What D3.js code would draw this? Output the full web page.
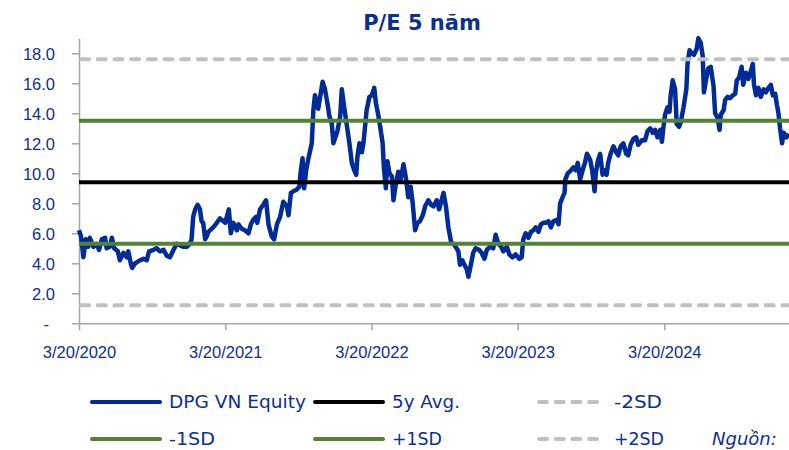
<!DOCTYPE html>
<html>
<head>
<meta charset="utf-8">
<script src="https://cdn.jsdelivr.net/npm/d3@7"></script>
<style>
  body { margin: 0; background: #fff; }
  svg { display: block; font-family: "DejaVu Sans", sans-serif; }
</style>
</head>
<body>
<script>
let width = 789,
  height = 450

// P/E of DPG VN Equity
let peSeries = [
  ["2020-03-20", 6.2], ["2020-03-25", 5.8], ["2020-03-31", 4.4], ["2020-04-06", 5.6], ["2020-04-12", 5.1],
  ["2020-04-16", 5.7], ["2020-04-25", 5.1], ["2020-05-03", 5.3], ["2020-05-09", 4.9], ["2020-05-16", 5.6],
  ["2020-05-24", 5.7], ["2020-05-28", 5.0], ["2020-06-05", 5.1], ["2020-06-10", 5.7], ["2020-06-16", 5.0],
  ["2020-06-25", 4.8], ["2020-06-30", 4.2], ["2020-07-09", 4.7], ["2020-07-17", 4.4], ["2020-07-21", 4.8],
  ["2020-07-28", 3.9], ["2020-07-31", 3.7], ["2020-08-07", 4.0], ["2020-08-19", 4.2], ["2020-08-28", 4.3],
  ["2020-09-05", 4.2], ["2020-09-11", 4.8], ["2020-09-22", 4.9], ["2020-09-30", 5.0], ["2020-10-08", 4.8],
  ["2020-10-17", 4.9], ["2020-10-25", 4.5], ["2020-11-02", 4.4], ["2020-11-11", 4.9], ["2020-11-19", 5.3],
  ["2020-11-27", 5.2], ["2020-12-06", 5.1], ["2020-12-14", 5.1], ["2020-12-22", 5.3], ["2020-12-26", 5.6],
  ["2020-12-30", 7.1], ["2021-01-04", 7.6], ["2021-01-10", 7.9], ["2021-01-16", 7.6], ["2021-01-20", 6.8],
  ["2021-01-24", 6.7], ["2021-01-29", 5.6], ["2021-02-02", 5.8], ["2021-02-06", 6.1], ["2021-02-18", 6.4],
  ["2021-02-27", 6.7], ["2021-03-07", 7.0], ["2021-03-11", 6.9], ["2021-03-20", 6.7], ["2021-03-29", 7.6],
  ["2021-04-03", 6.0], ["2021-04-09", 6.7], ["2021-04-18", 6.2], ["2021-04-22", 6.6], ["2021-04-30", 6.3],
  ["2021-05-08", 6.2], ["2021-05-17", 6.0], ["2021-05-23", 6.6], ["2021-05-29", 6.9], ["2021-06-05", 7.1],
  ["2021-06-08", 6.7], ["2021-06-15", 7.6], ["2021-06-23", 7.9], ["2021-06-30", 8.2], ["2021-07-06", 6.6],
  ["2021-07-14", 5.8], ["2021-07-20", 5.6], ["2021-07-27", 6.6], ["2021-08-04", 7.1], ["2021-08-12", 8.1],
  ["2021-08-21", 7.8], ["2021-08-25", 7.2], ["2021-08-31", 8.7], ["2021-09-06", 8.8], ["2021-09-14", 8.9],
  ["2021-09-21", 9.1], ["2021-09-24", 10.0], ["2021-09-29", 11.0], ["2021-10-03", 9.0], ["2021-10-08", 10.2],
  ["2021-10-13", 10.9], ["2021-10-22", 12.0], ["2021-10-26", 14.2], ["2021-10-30", 15.2], ["2021-11-03", 14.8],
  ["2021-11-07", 14.3], ["2021-11-12", 15.1], ["2021-11-18", 16.1], ["2021-11-24", 15.6], ["2021-11-30", 14.7],
  ["2021-12-05", 13.8], ["2021-12-11", 13.3], ["2021-12-15", 12.0], ["2021-12-20", 12.4], ["2021-12-25", 12.8],
  ["2021-12-27", 13.1], ["2022-01-01", 13.8], ["2022-01-05", 15.6], ["2022-01-11", 14.4], ["2022-01-17", 13.3],
  ["2022-01-24", 12.0], ["2022-01-30", 10.7], ["2022-02-05", 10.2], ["2022-02-10", 9.9], ["2022-02-13", 11.1],
  ["2022-02-18", 12.0], ["2022-02-24", 11.4], ["2022-02-28", 12.0], ["2022-03-04", 13.1], ["2022-03-08", 14.2],
  ["2022-03-15", 15.1], ["2022-03-21", 15.2], ["2022-03-27", 15.7], ["2022-03-31", 14.7], ["2022-04-06", 13.9],
  ["2022-04-12", 12.9], ["2022-04-17", 12.0], ["2022-04-20", 10.4], ["2022-04-25", 9.0], ["2022-04-29", 10.8],
  ["2022-05-04", 10.0], ["2022-05-10", 9.8], ["2022-05-14", 8.2], ["2022-05-20", 9.3], ["2022-05-26", 10.1],
  ["2022-06-01", 9.6], ["2022-06-08", 10.6], ["2022-06-14", 9.7], ["2022-06-20", 8.4], ["2022-06-26", 9.1],
  ["2022-07-01", 8.0], ["2022-07-07", 6.2], ["2022-07-13", 6.7], ["2022-07-19", 6.8], ["2022-07-26", 7.2],
  ["2022-08-01", 7.8], ["2022-08-09", 8.2], ["2022-08-16", 7.9], ["2022-08-22", 7.8], ["2022-08-30", 8.2],
  ["2022-09-05", 7.6], ["2022-09-16", 8.7], ["2022-09-22", 7.8], ["2022-09-28", 6.4], ["2022-10-05", 5.4],
  ["2022-10-11", 5.3], ["2022-10-16", 5.1], ["2022-10-23", 4.8], ["2022-10-27", 3.9], ["2022-11-02", 4.2],
  ["2022-11-07", 3.9], ["2022-11-13", 3.6], ["2022-11-17", 3.1], ["2022-11-24", 4.0], ["2022-11-29", 4.7],
  ["2022-12-05", 5.0], ["2022-12-14", 4.9], ["2022-12-20", 4.7], ["2022-12-27", 4.3], ["2023-01-02", 4.9],
  ["2023-01-10", 5.1], ["2023-01-18", 5.0], ["2023-01-24", 5.9], ["2023-01-31", 5.3], ["2023-02-07", 5.1],
  ["2023-02-12", 4.8], ["2023-02-21", 5.1], ["2023-02-27", 4.6], ["2023-03-07", 4.4], ["2023-03-15", 4.6],
  ["2023-03-24", 4.3], ["2023-03-30", 4.4], ["2023-04-03", 5.6], ["2023-04-09", 6.0], ["2023-04-16", 5.7],
  ["2023-04-22", 6.1], ["2023-04-28", 6.2], ["2023-05-04", 6.4], ["2023-05-11", 6.1], ["2023-05-17", 6.6],
  ["2023-05-23", 6.7], ["2023-05-29", 6.7], ["2023-06-05", 6.8], ["2023-06-11", 6.4], ["2023-06-17", 6.8],
  ["2023-06-26", 6.9], ["2023-06-30", 6.6], ["2023-07-04", 8.0], ["2023-07-10", 8.4], ["2023-07-15", 8.7],
  ["2023-07-17", 9.6], ["2023-07-23", 10.0], ["2023-07-31", 10.2], ["2023-08-06", 10.4], ["2023-08-12", 10.2],
  ["2023-08-17", 10.7], ["2023-08-23", 9.6], ["2023-08-29", 10.2], ["2023-09-04", 10.7], ["2023-09-09", 11.3],
  ["2023-09-17", 10.9], ["2023-09-22", 10.2], ["2023-09-28", 8.8], ["2023-10-01", 10.0], ["2023-10-06", 10.8],
  ["2023-10-12", 11.3], ["2023-10-18", 9.9], ["2023-10-24", 10.2], ["2023-10-28", 9.9], ["2023-11-01", 10.7],
  ["2023-11-07", 11.3], ["2023-11-14", 11.8], ["2023-11-21", 11.4], ["2023-11-26", 11.2], ["2023-12-02", 11.8],
  ["2023-12-09", 12.0], ["2023-12-16", 11.3], ["2023-12-21", 11.2], ["2023-12-27", 11.9], ["2024-01-03", 12.3],
  ["2024-01-10", 12.4], ["2024-01-15", 11.9], ["2024-01-24", 12.2], ["2024-02-01", 12.2], ["2024-02-07", 12.8],
  ["2024-02-14", 13.0], ["2024-02-20", 12.7], ["2024-02-26", 12.9], ["2024-03-03", 12.4], ["2024-03-10", 12.9],
  ["2024-03-14", 12.1], ["2024-03-18", 13.1], ["2024-03-22", 13.9], ["2024-03-28", 14.4], ["2024-04-02", 14.1],
  ["2024-04-05", 15.2], ["2024-04-10", 16.2], ["2024-04-16", 15.6], ["2024-04-20", 13.3], ["2024-04-26", 13.1],
  ["2024-04-30", 13.4], ["2024-05-07", 14.4], ["2024-05-14", 15.6], ["2024-05-17", 17.3], ["2024-05-22", 18.2],
  ["2024-05-28", 18.0], ["2024-06-02", 17.9], ["2024-06-09", 18.3], ["2024-06-13", 19.0], ["2024-06-19", 18.7],
  ["2024-06-24", 17.8], ["2024-06-27", 15.4], ["2024-07-02", 16.2], ["2024-07-08", 17.0], ["2024-07-14", 17.1],
  ["2024-07-21", 15.8], ["2024-07-25", 14.0], ["2024-07-31", 13.7], ["2024-08-05", 12.9], ["2024-08-08", 13.9],
  ["2024-08-15", 14.2], ["2024-08-19", 14.9], ["2024-08-25", 15.1], ["2024-08-31", 15.0], ["2024-09-07", 15.2],
  ["2024-09-13", 15.3], ["2024-09-17", 16.2], ["2024-09-23", 16.4], ["2024-09-29", 17.1], ["2024-10-03", 15.9],
  ["2024-10-10", 16.7], ["2024-10-16", 16.3], ["2024-10-22", 16.8], ["2024-10-27", 17.3], ["2024-10-30", 15.9],
  ["2024-11-04", 15.2], ["2024-11-10", 15.7], ["2024-11-16", 15.1], ["2024-11-23", 15.6], ["2024-11-29", 15.4],
  ["2024-12-05", 15.7], ["2024-12-11", 15.9], ["2024-12-16", 15.2], ["2024-12-22", 15.3], ["2024-12-26", 14.6],
  ["2024-12-30", 14.0], ["2025-01-03", 13.0], ["2025-01-08", 12.0], ["2025-01-12", 12.7], ["2025-01-19", 12.4],
  ["2025-01-26", 12.6]
]

// average and standard deviation bands
let bandNames = ["+2SD", "+1SD", "5y Avg.", "-1SD", "-2SD"]
let bandValues = [17.6, 13.5, 9.4, 5.3, 1.2]

let yTicks = [0, 2, 4, 6, 8, 10, 12, 14, 16, 18]
let xTickDates = ["2020-03-20", "2021-03-20", "2022-03-20", "2023-03-20", "2024-03-20"]

let parse = d3.timeParse("%Y-%m-%d")
let textColor = "#0d2f8f"
let bandStyle = {
  "+2SD": { color: "#c0c0c0", dash: true },
  "+1SD": { color: "#548235", dash: false },
  "5y Avg.": { color: "#000000", dash: false },
  "-1SD": { color: "#548235", dash: false },
  "-2SD": { color: "#c0c0c0", dash: true }
}

let svg = d3.select("body").append("svg")
  .attr("width", width)
  .attr("height", height)

let x = d3.scaleTime()
  .domain([parse("2020-03-20"), parse("2025-03-20")])
  .range([79, 810.5])

let y = d3.scaleLinear()
  .domain([0, 19])
  .range([323.3, 38.3])

// title
svg.append("text")
  .attr("x", 422)
  .attr("y", 30)
  .attr("text-anchor", "middle")
  .attr("font-size", 21)
  .attr("font-weight", "700")
  .attr("fill", textColor)
  .text("P/E 5 năm")

// y axis
let yAxis = svg.append("g")
  .attr("transform", "translate(79,0)")
  .call(d3.axisLeft(y)
    .tickValues(yTicks)
    .tickSize(7)
    .tickSizeOuter(0)
    .tickPadding(17)
    .tickFormat(d => d === 0 ? "-" : d.toFixed(1)))

yAxis.selectAll("text")
  .attr("font-size", 16.5)
  .attr("fill", textColor)
  .attr("dy", "0.36em")
  .attr("dx", d => d === 0 ? -6 : 0)

// x axis
let xAxis = svg.append("g")
  .attr("transform", `translate(0,${y(0)})`)
  .call(d3.axisBottom(x)
    .tickValues(xTickDates.map(parse))
    .tickSize(7)
    .tickSizeOuter(0)
    .tickFormat(d3.timeFormat("%-m/%-d/%Y")))

xAxis.selectAll("text")
  .attr("font-size", 16.5)
  .attr("fill", textColor)
  .attr("y", 35)
  .attr("dy", 0)

svg.selectAll(".domain, .tick line")
  .attr("stroke", "#a6a6a6")
  .attr("stroke-width", 1.5)

// DPG series
let line = d3.line()
  .x(d => x(parse(d[0])))
  .y(d => y(d[1]))

svg.append("path")
  .datum(peSeries)
  .attr("d", line)
  .attr("fill", "none")
  .attr("stroke", "#002b99")
  .attr("stroke-width", 4.5)
  .attr("stroke-linejoin", "round")

// bands
bandNames.forEach((name, i) => {
  let st = bandStyle[name]
  svg.append("line")
    .attr("x1", x.range()[0])
    .attr("x2", x.range()[1])
    .attr("y1", y(bandValues[i]))
    .attr("y2", y(bandValues[i]))
    .attr("stroke", st.color)
    .attr("stroke-width", 4)
    .attr("stroke-linecap", st.dash ? "round" : "butt")
    .attr("stroke-dasharray", st.dash ? "8,8.7" : null)
    .attr("stroke-dashoffset", st.dash ? -2 : null)
})

// legend
let legendItems = [
  { label: "DPG VN Equity", color: "#002b99", dash: false, w: 137 },
  { label: "5y Avg.", color: bandStyle["5y Avg."].color, dash: false, w: 68 },
  { label: "-2SD", color: bandStyle["-2SD"].color, dash: true, w: 48 },
  { label: "-1SD", color: bandStyle["-1SD"].color, dash: false, w: 46 },
  { label: "+1SD", color: bandStyle["+1SD"].color, dash: false, w: 50 },
  { label: "+2SD", color: bandStyle["+2SD"].color, dash: true, w: 50 }
]
let colX = [92, 315, 537]
let rowY = [402, 439]

let legend = svg.append("g").attr("class", "legend")
legendItems.forEach((item, i) => {
  let lx = colX[i % 3], ly = rowY[Math.floor(i / 3)]
  let g = legend.append("g").attr("transform", `translate(${lx},${ly})`)
  g.append("line")
    .attr("x1", item.dash ? 2 : 0)
    .attr("x2", 68)
    .attr("stroke", item.color)
    .attr("stroke-width", 4)
    .attr("stroke-linecap", "round")
    .attr("stroke-dasharray", item.dash ? "8,8.7" : null)
  g.append("text")
    .attr("x", 77)
    .attr("dy", "0.35em")
    .attr("font-size", 18.5)
    .attr("textLength", item.w)
    .attr("lengthAdjust", "spacingAndGlyphs")
    .attr("fill", textColor)
    .text(item.label)
})

// source note at the bottom right corner
svg.append("text")
  .attr("x", 712)
  .attr("y", 445)
  .attr("font-size", 18)
  .attr("font-style", "italic")
  .attr("fill", textColor)
  .text("Nguồn:")
</script>
</body>
</html>
